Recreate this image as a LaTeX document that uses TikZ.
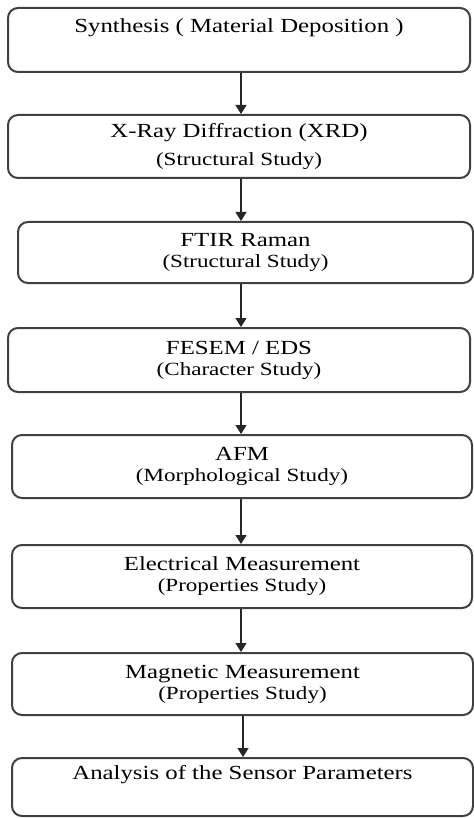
\documentclass[tikz,border=0pt]{standalone}
\usepackage{fontspec}
\setmainfont{Liberation Serif}[FakeStretch=1.24]
\usetikzlibrary{calc,arrows.meta}
\tikzset{stepbox/.style={draw=black!75, line width=1pt, rounded corners=5pt, fill=white,
    align=center, inner sep=0pt, text=black, font=\fontsize{10}{10.5}\selectfont}}
\tikzset{flow/.style={-{Triangle[length=4.5pt,width=5.5pt]}, line width=0.7pt, color=black!85}}
\def\stepnode{\node[stepbox]}
\def\drawflow{\draw[flow]}
\newcommand\substudy[1]{{\fontsize{9.3}{10.5}\selectfont #1}}

\begin{document}
\begin{tikzpicture}[x=0.5pt,y=-0.5pt]
\useasboundingbox (0,0) rectangle (474,818);
\coordinate (axis) at (241,0); % x of the flow arrows
\coordinate (lastaxis) at (243,0); % the last arrow sits a little to the right

% ---------- the steps, top to bottom
\stepnode[minimum width=231pt, minimum height=32pt] (synth) at (239,40)
    {Synthesis ( Material Deposition )\\[1pt]\strut};
\stepnode[minimum width=231pt, minimum height=31.5pt] (xrd) at (239,146.5)
    {X-Ray Diffraction (XRD)\\[3.5pt]\substudy{(Structural Study)}};
\stepnode[minimum width=227.5pt, minimum height=30.5pt] (ftir) at (245.5,252.5)
    {FTIR Raman\\\substudy{(Structural Study)}};
\stepnode[minimum width=231pt, minimum height=32pt] (fesem) at (239,360)
    {FESEM / EDS\\\substudy{(Character Study)}};
\stepnode[minimum width=230pt, minimum height=31.5pt] (afm) at (242,466.5)
    {AFM\\\substudy{(Morphological Study)}};
\stepnode[minimum width=230pt, minimum height=31.5pt] (elec) at (242,576.5)
    {Electrical Measurement\\\substudy{(Properties Study)}};
\stepnode[minimum width=230.5pt, minimum height=31pt] (magn) at (242.5,684)
    {Magnetic Measurement\\\substudy{(Properties Study)}};
\stepnode[minimum width=230.5pt, minimum height=29pt] (sensor) at (242.5,787)
    {Analysis of the Sensor Parameters\\[1pt]\strut};

% ---------- the arrows between them
\drawflow (synth.south -| axis) -- (xrd.north -| axis);
\drawflow (xrd.south -| axis) -- (ftir.north -| axis);
\drawflow (ftir.south -| axis) -- (fesem.north -| axis);
\drawflow (fesem.south -| axis) -- (afm.north -| axis);
\drawflow (afm.south -| axis) -- (elec.north -| axis);
\drawflow (elec.south -| axis) -- (magn.north -| axis);
\drawflow (magn.south -| lastaxis) -- (sensor.north -| lastaxis);
\end{tikzpicture}
\end{document}
